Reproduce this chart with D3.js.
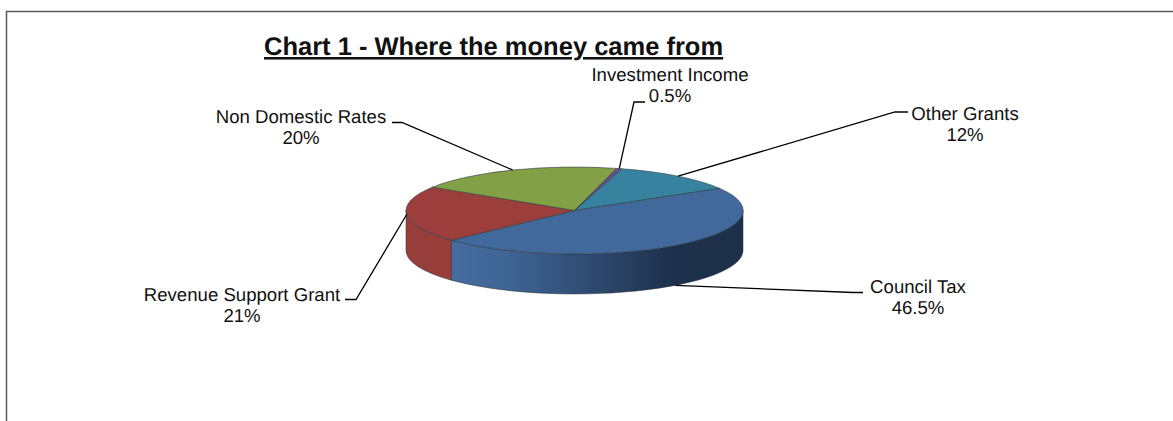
<!DOCTYPE html>
<html>
<head>
<meta charset="utf-8">
<script src="https://cdn.jsdelivr.net/npm/d3@7"></script>
<style>
  html, body { margin: 0; padding: 0; background: #fff; }
  svg { display: block; }
  text { font-family: "Liberation Sans", Arial, sans-serif; fill: #111; text-rendering: geometricPrecision; }
</style>
</head>
<body>
<svg id="chart" width="1173" height="421"></svg>
<script>
// Income sources, in drawing order clockwise from the first slice edge
const categories = ["Other Grants", "Council Tax", "Revenue Support Grant", "Non Domestic Rates", "Investment Income"];
const shares = [12, 46.5, 21, 20, 0.5];
const valueLabels = ["12%", "46.5%", "21%", "20%", "0.5%"];
const topColors = ["#37839f", "#41699b", "#9c3f3c", "#82a046", "#6a4f8c"];
const title = "Chart 1 - Where the money came from";

// Layout of the tilted disc
const cx = 574.5, cy = 210.5, rx = 168.5, ry = 43.5, depth = 40;
const rad = d => d * Math.PI / 180;
const firstEdge = rad(16.3);

// Label anchors and leader elbows; lowerRim hangs the leader from the wall's bottom edge
const labelLayout = [
  { x: 965, y: 141, elbow: [[908, 112], [895, 112]], lowerRim: false },
  { x: 918, y: 314, elbow: [[863, 292.5], [853, 292.5]], lowerRim: true },
  { x: 242, y: 322, elbow: [[345, 299.5], [356, 299.5]], lowerRim: false },
  { x: 301, y: 144, elbow: [[392, 122.5], [402, 122.5]], lowerRim: false },
  { x: 670, y: 102, elbow: [[645, 102], [634, 102]], lowerRim: false }
];

const svg = d3.select("#chart");

// Chart frame, open at the right and bottom of the view
svg.append("path")
  .attr("d", "M6.5 421V11.5H1173")
  .attr("fill", "none")
  .attr("stroke", "#5a5a5a")
  .attr("stroke-width", 1.5);

const defs = svg.append("defs");
const wallGrad = defs.append("linearGradient")
  .attr("id", "wallBlue")
  .attr("gradientUnits", "userSpaceOnUse")
  .attr("x1", cx - rx).attr("x2", cx + rx).attr("y1", 0).attr("y2", 0);
[[0, "#4a72a6"], [0.3, "#3f6595"], [0.55, "#2f4a70"], [0.8, "#1d304b"], [1, "#1e3049"]]
  .forEach(([o, c]) => wallGrad.append("stop").attr("offset", o).attr("stop-color", c));

const pieGen = d3.pie().sort(null).startAngle(firstEdge).endAngle(firstEdge + 2 * Math.PI);
const slices = pieGen(shares);

const px = a => cx + rx * Math.sin(a);
const py = a => cy - ry * Math.cos(a);

// Outer wall of one slice, clipped to the half of the rim facing the viewer
function wallPath(s) {
  const a0 = Math.max(s.startAngle, Math.PI / 2);
  const a1 = Math.min(s.endAngle, 3 * Math.PI / 2);
  if (a1 <= a0) return null;
  const large = a1 - a0 > Math.PI ? 1 : 0;
  return `M${px(a0)} ${py(a0)}A${rx} ${ry} 0 ${large} 1 ${px(a1)} ${py(a1)}` +
         `V${py(a1) + depth}A${rx} ${ry} 0 ${large} 0 ${px(a0)} ${py(a0) + depth}Z`;
}

const disc = svg.append("g");

disc.selectAll("path.wall")
  .data(slices)
  .join("path")
  .attr("class", "wall")
  .attr("d", wallPath)
  .attr("fill", (d, i) => categories[i] === "Council Tax" ? "url(#wallBlue)" : d3.color(topColors[i]).darker(0.1))
  .attr("stroke", "#2b3340")
  .attr("stroke-opacity", 0.65)
  .attr("stroke-width", 0.8);

// Top face: a d3 arc on the unit circle squashed into an ellipse
const unitArc = d3.arc().innerRadius(0).outerRadius(1);
disc.append("g")
  .attr("transform", `translate(${cx},${cy}) scale(${rx},${ry})`)
  .selectAll("path")
  .data(slices)
  .join("path")
  .attr("d", unitArc)
  .attr("fill", (d, i) => topColors[i])
  .attr("stroke", "#2f3a3f")
  .attr("stroke-opacity", 0.65)
  .attr("stroke-width", 0.9)
  .attr("vector-effect", "non-scaling-stroke");

// Leader lines run from each label's elbow to the rim at the slice's mid-angle
const line = d3.line();
const rimPoint = (s, drop) => {
  const mid = (s.startAngle + s.endAngle) / 2;
  return [px(mid), py(mid) + (drop ? depth : 0)];
};
svg.append("g")
  .selectAll("path")
  .data(labelLayout)
  .join("path")
  .attr("d", (d, i) => line([d.elbow[0], d.elbow[1], rimPoint(slices[i], d.lowerRim)]))
  .attr("fill", "none")
  .attr("stroke", "#000")
  .attr("stroke-width", 1.3);

// Two-line labels: category name over its share
const labels = svg.append("g")
  .selectAll("text")
  .data(labelLayout)
  .join("text")
  .attr("text-anchor", "middle")
  .attr("font-size", 18.6);
labels.append("tspan").attr("x", d => d.x).attr("y", d => d.y - 21.5).text((d, i) => categories[i]);
labels.append("tspan").attr("x", d => d.x).attr("y", d => d.y).text((d, i) => valueLabels[i]);

svg.append("text")
  .attr("x", 264)
  .attr("y", 55)
  .attr("font-size", 25.5)
  .attr("font-weight", "bold")
  .attr("text-decoration", "underline")
  .text(title);
</script>
</body>
</html>
